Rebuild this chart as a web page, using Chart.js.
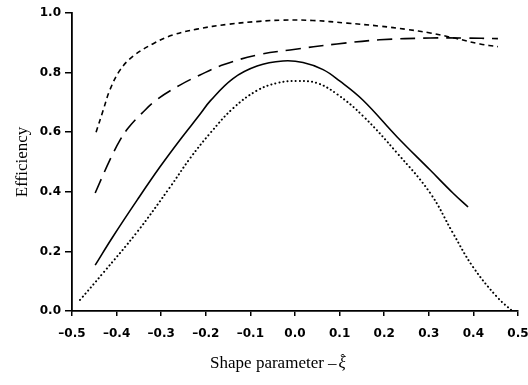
<!DOCTYPE html>
<html>
<head>
<meta charset="utf-8">
<script src="https://cdn.jsdelivr.net/npm/chart.js@4"></script>
<style>
  body { margin: 0; background: #fff; }
  #wrap { width: 528px; height: 385px; }
</style>
</head>
<body>
<div id="wrap"><canvas id="eff-chart" width="528" height="385"></canvas></div>
<script>
// values
var shortDashX = [-0.446, -0.43, -0.415, -0.392, -0.363, -0.318, -0.274, -0.22, -0.15, -0.08, -0.03, 0.04, 0.117, 0.19, 0.25, 0.303, 0.36, 0.415, 0.455];
var shortDashY = [0.60, 0.674, 0.742, 0.809, 0.855, 0.897, 0.926, 0.946, 0.962, 0.972, 0.976, 0.975, 0.966, 0.956, 0.945, 0.933, 0.915, 0.896, 0.887];

var longDashX = [-0.448, -0.415, -0.392, -0.374, -0.343, -0.309, -0.258, -0.213, -0.161, -0.085, -0.011, 0.094, 0.19, 0.303, 0.38, 0.455];
var longDashY = [0.396, 0.507, 0.574, 0.614, 0.664, 0.71, 0.758, 0.792, 0.826, 0.859, 0.876, 0.896, 0.91, 0.916, 0.916, 0.914];

var solidX = [-0.448, -0.408, -0.354, -0.303, -0.258, -0.213, -0.19, -0.139, -0.085, -0.027, 0.018, 0.063, 0.1, 0.152, 0.229, 0.303, 0.354, 0.388];
var solidY = [0.154, 0.25, 0.372, 0.483, 0.574, 0.66, 0.705, 0.78, 0.822, 0.839, 0.834, 0.81, 0.772, 0.708, 0.584, 0.473, 0.396, 0.349];

var dottedX = [-0.482, -0.43, -0.354, -0.28, -0.235, -0.19, -0.139, -0.085, -0.04, 0.004, 0.049, 0.094, 0.152, 0.229, 0.303, 0.354, 0.399, 0.453, 0.487];
var dottedY = [0.037, 0.128, 0.265, 0.416, 0.513, 0.597, 0.68, 0.74, 0.765, 0.772, 0.765, 0.728, 0.655, 0.53, 0.396, 0.262, 0.148, 0.047, 0.0];

var xTicks = [-0.5, -0.4, -0.3, -0.2, -0.1, 0.0, 0.1, 0.2, 0.3, 0.4, 0.5];
var yTicks = [0.0, 0.2, 0.4, 0.6, 0.8, 1.0];

function pts(xs, ys){
  return xs.map(function(x, i){ return {x: x, y: ys[i]}; });
}

function fmt(v){
  var s = Math.abs(v).toFixed(1);
  return v < -0.0001 ? '\u2013' + s : s;
}

function line(data, dash, width, cap){
  return {
    data: data,
    borderColor: '#000',
    borderWidth: width,
    borderDash: dash,
    borderCapStyle: cap || 'butt',
    pointRadius: 0,
    fill: false,
    tension: 0.4
  };
}

// x axis title drawn by hand so the xi can be italic with a hat
var xTitle = {
  id: 'xTitle',
  afterDraw: function(chart){
    var ctx = chart.ctx;
    ctx.save();
    ctx.fillStyle = '#000';
    ctx.textBaseline = 'alphabetic';
    var a = 'Shape parameter \u2013';
    ctx.font = '17px "Liberation Serif"';
    var wa = ctx.measureText(a).width + 2;
    ctx.font = 'italic 17px "Liberation Serif"';
    var wb = ctx.measureText('\u03be').width;
    var x0 = 278 - (wa + wb) / 2;
    var y0 = 368;
    ctx.font = '17px "Liberation Serif"';
    ctx.fillText(a, x0, y0);
    ctx.font = 'italic 17px "Liberation Serif"';
    ctx.fillText('\u03be', x0 + wa, y0);
    ctx.font = '13px "Liberation Serif"';
    ctx.fillText('\u02c6', x0 + wa + 2, y0 - 5);
    ctx.restore();
  }
};

var bgWhite = {
  id: 'bgWhite',
  beforeDraw: function(chart){
    var ctx = chart.ctx;
    ctx.save();
    ctx.fillStyle = '#fff';
    ctx.fillRect(0, 0, chart.width, chart.height);
    ctx.restore();
  }
};

var ctx = document.getElementById('eff-chart');
var myChart = new Chart(ctx, {
  type: 'line',
  data: {
    datasets: [
      line(pts(shortDashX, shortDashY), [5, 4], 1.6),
      line(pts(longDashX, longDashY), [15, 8], 1.6),
      line(pts(solidX, solidY), [], 1.6),
      line(pts(dottedX, dottedY), [0.1, 4], 2, 'round')
    ]
  },
  options: {
    responsive: false,
    animation: false,
    layout: { padding: { top: 13, right: 10, left: 0, bottom: 0 } },
    plugins: {
      legend: { display: false },
      tooltip: { enabled: false }
    },
    scales: {
      x: {
        type: 'linear',
        min: -0.5,
        max: 0.5,
        afterFit: function(scale){
          scale.height = 74;
          scale.paddingLeft = 0;
          scale.paddingRight = 0;
        },
        afterBuildTicks: function(scale){ scale.ticks = xTicks.map(function(v){ return {value: v}; }); },
        grid: { drawOnChartArea: false, drawTicks: true, tickLength: 5, color: '#000', lineWidth: 1.5 },
        border: { display: true, color: '#000', width: 1.8 },
        ticks: {
          color: '#000',
          padding: 11,
          maxRotation: 0,
          font: { family: 'DejaVu Sans', weight: 'bold', size: 12 },
          callback: function(v){ return fmt(v); }
        }
      },
      y: {
        type: 'linear',
        min: 0,
        max: 1.0,
        afterFit: function(scale){ scale.width = 72; },
        afterBuildTicks: function(scale){ scale.ticks = yTicks.map(function(v){ return {value: v}; }); },
        grid: { drawOnChartArea: false, drawTicks: true, tickLength: 7, color: '#000', lineWidth: 1.5 },
        border: { display: true, color: '#000', width: 1.8 },
        title: {
          display: true,
          text: 'Efficiency',
          color: '#000',
          font: { family: 'Liberation Serif', size: 17 },
          padding: { top: 12, bottom: 0 }
        },
        ticks: {
          color: '#000',
          padding: 4,
          font: { family: 'DejaVu Sans', weight: 'bold', size: 12 },
          callback: function(v){ return fmt(v); }
        }
      }
    }
  },
  plugins: [bgWhite, xTitle]
});
</script>
</body>
</html>
